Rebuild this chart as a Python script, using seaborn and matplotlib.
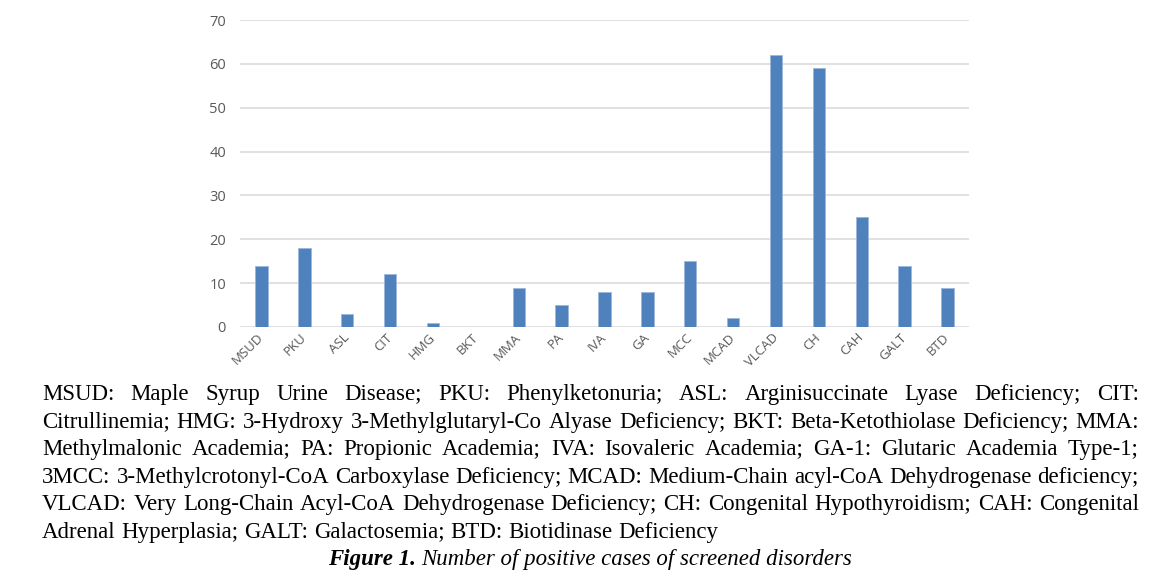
import math
import matplotlib
matplotlib.use("Agg")
import matplotlib.pyplot as plt
import pandas as pd
import seaborn as sns
from matplotlib.font_manager import FontProperties

disorders = ["MSUD", "PKU", "ASL", "CIT", "HMG", "BKT", "MMA", "PA", "IVA", "GA",
             "MCC", "MCAD", "VLCAD", "CH", "CAH", "GALT", "BTD"]
cases = [14, 18, 3, 12, 1, 0, 9, 5, 8, 8, 15, 2, 62, 59, 25, 14, 9]
y_ticks = [0, 10, 20, 30, 40, 50, 60, 70]

legend_lines = [
    "MSUD: Maple Syrup Urine Disease; PKU: Phenylketonuria; ASL: Arginisuccinate Lyase Deficiency; CIT:",
    "Citrullinemia; HMG: 3-Hydroxy 3-Methylglutaryl-Co Alyase Deficiency; BKT: Beta-Ketothiolase Deficiency; MMA:",
    "Methylmalonic Academia; PA: Propionic Academia; IVA: Isovaleric Academia; GA-1: Glutaric Academia Type-1;",
    "3MCC: 3-Methylcrotonyl-CoA Carboxylase Deficiency; MCAD: Medium-Chain acyl-CoA Dehydrogenase deficiency;",
    "VLCAD: Very Long-Chain Acyl-CoA Dehydrogenase Deficiency; CH: Congenital Hypothyroidism; CAH: Congenital",
    "Adrenal Hyperplasia; GALT: Galactosemia; BTD: Biotidinase Deficiency",
]
caption_bold = "Figure 1."
caption_rest = "Number of positive cases of screened disorders"

df = pd.DataFrame({"disorder": disorders, "cases": cases})

sns.set_style("white")
W, H = 1166, 581
fig = plt.figure(figsize=(W / 100, H / 100), dpi=100)
ax = fig.add_axes([240 / W, 1 - 327 / H, (969 - 240) / W, (327 - 20) / H])

sns.barplot(data=df, x="disorder", y="cases", color="#4F81BD", saturation=1,
            width=0.29, ax=ax, edgecolor="#9DB7DB", linewidth=0.6, zorder=3)

ax.set_ylim(0, 70)
ax.set_yticks(y_ticks)
ax.yaxis.grid(True, color="#D9D9D9", linewidth=1.1, zorder=0)
ax.set_axisbelow(True)
for s in ax.spines.values():
    s.set_visible(False)
ax.set_xlabel("")
ax.set_ylabel("")
ax.tick_params(axis="both", length=0, colors="#595959")
ax.tick_params(axis="y", pad=10, labelsize=10.5)
ax.tick_params(axis="x", pad=6, labelsize=9.5)
for lab in ax.get_yticklabels():
    lab.set_fontfamily("Open Sans")
for lab in ax.get_xticklabels():
    lab.set_fontfamily("Open Sans")
    lab.set_rotation(45)
    lab.set_ha("right")
    lab.set_va("center")
    lab.set_rotation_mode("anchor")

# justified legend text below the chart, word by word
fs = 16.5
regular = FontProperties(family="Liberation Serif", size=fs)
italic = FontProperties(family="Liberation Serif", size=fs, style="italic")
bold_it = FontProperties(family="Liberation Serif", size=fs, style="italic", weight="bold")
fig.canvas.draw()
renderer = fig.canvas.get_renderer()


def measure(s, prop):
    return renderer.get_text_width_height_descent(s, prop, ismath=False)


def put_word(x_px, base_row, s, prop):
    # shift so that every word lands on the same pixel baseline
    w, h, d = measure(s, prop)
    y_f = base_row + math.floor(h) - math.floor(h - d) - d
    fig.text(x_px / W, (H - y_f) / H, s, fontproperties=prop,
             va="baseline", ha="left", color="black")
    return w


def space_width(prop):
    return measure("a a", prop)[0] - measure("aa", prop)[0]


x_left, x_right = 42, 1139
y_base = 400
line_gap = 27.6
sp = space_width(regular)
for i, line in enumerate(legend_lines):
    base_row = round(y_base + i * line_gap)
    words = line.split(" ")
    widths = [measure(w, regular)[0] for w in words]
    if i < len(legend_lines) - 1:
        gap = (x_right - x_left - sum(widths)) / (len(words) - 1)
    else:
        gap = sp
    x = x_left
    for w, wd in zip(words, widths):
        put_word(x, base_row, w, regular)
        x += wd + gap

wb = measure(caption_bold, bold_it)[0]
sp_i = space_width(italic)
wr = measure(caption_rest, italic)[0]
cx = 590 - (wb + sp_i + wr) / 2
cap_row = round(y_base + 6 * line_gap - 1)
put_word(cx, cap_row, caption_bold, bold_it)
put_word(cx + wb + sp_i, cap_row, caption_rest, italic)

fig.savefig("out.png", dpi=100)
